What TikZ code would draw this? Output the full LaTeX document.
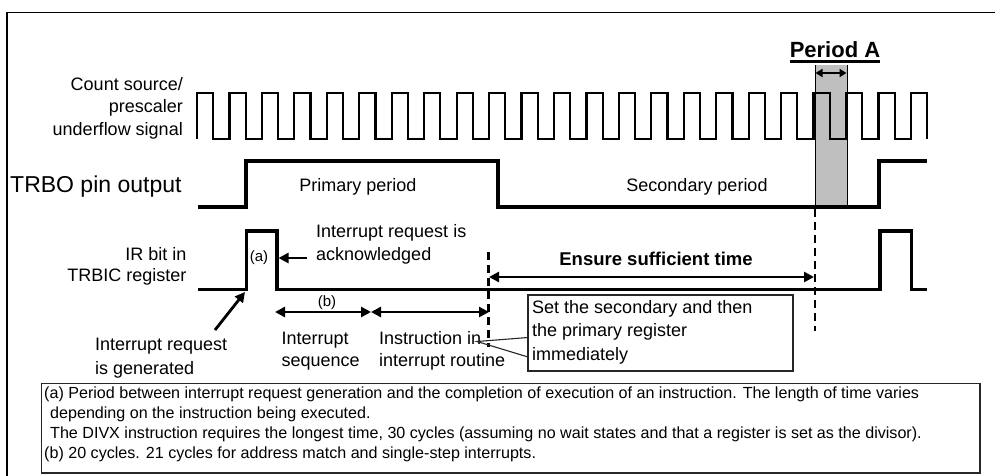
\documentclass[tikz,border=0pt]{standalone}
\usepackage{fontspec}
\setmainfont{Liberation Sans}
\usetikzlibrary{arrows.meta}
\begin{document}
\begin{tikzpicture}[x=1pt,y=-1pt,
  lbl/.style={inner sep=0pt, font=\fontsize{18}{22}\selectfont},
  biglbl/.style={inner sep=0pt, font=\fontsize{23}{27}\selectfont},
  smalllbl/.style={inner sep=0pt, font=\fontsize{15}{18}\selectfont},
  boldlbl/.style={inner sep=0pt, font=\fontsize{18.5}{22}\selectfont\bfseries},
  notelbl/.style={inner sep=0pt, anchor=base west, font=\fontsize{16.1}{18}\selectfont},
  clk/.style={line width=2.2pt, line join=miter},
  pin/.style={line width=4.5pt, line join=miter},
  irb/.style={line width=3.2pt, line join=miter},
  dashline/.style={line width=2.6pt, dash pattern=on 8pt off 5pt},
  dblarrow/.style={line width=2.6pt, {Triangle[length=10pt,width=10pt]}-{Triangle[length=10pt,width=10pt]}},
  onearrow/.style={line width=2.8pt, -{Triangle[length=10pt,width=10pt]}},
  framebox/.style={line width=1.3pt, draw=black!85}
]
\useasboundingbox (0,0) rectangle (995,476);
% outer frame
\draw[line width=1.5pt] (7,476) -- (7,12.5) -- (995,12.5);

% Period A shading
\fill[black!25] (815,65) rectangle (847,207);
\draw[line width=1pt] (815,65) -- (815,207);
\draw[line width=1pt] (847,65) -- (847,207);

% clock signal
\draw[clk] (197,139) \foreach \k in {0,...,22}{ -- ({197+\k*32.45},139) -- ({197+\k*32.45},93) -- ({213.2+\k*32.45},93) -- ({213.2+\k*32.45},139)};

% TRBO pin output
\draw[pin] (198,207) -- (246,207) -- (246,161) -- (498,161) -- (498,207) -- (879,207) -- (879,161) -- (927,161);

% IR bit
\draw[irb] (198,289.5) -- (246.5,289.5) -- (246.5,231) -- (277,231) -- (277,289.5) -- (880,289.5) -- (880,231) -- (911.5,231) -- (911.5,289.5) -- (927,289.5);

% labels
\node[lbl, anchor=base east] (cs1) at (183,90.7) {Count source/};
\node[lbl, anchor=base east] (cs2) at (183,113) {prescaler};
\node[lbl, anchor=base east] (cs3) at (183,135.5) {underflow signal};
\node[biglbl, anchor=base west] (trbo) at (10,192.5) {TRBO pin output};
\node[lbl, anchor=base] (prim) at (358,191.5) {Primary period};
\node[lbl, anchor=base] (sec) at (697,191) {Secondary period};
\node[lbl, anchor=base east] (ir1) at (186.5,260) {IR bit in};
\node[lbl, anchor=base east] (ir2) at (186.5,281) {TRBIC register};
\node[smalllbl] (alab) at (259,258) {(a)};
\node[lbl, anchor=base west] (ack1) at (316,237) {Interrupt request is};
\node[lbl, anchor=base west] (ack2) at (316,260) {acknowledged};
\node[lbl, anchor=base west] (gen1) at (95,350) {Interrupt request};
\node[lbl, anchor=base west] (gen2) at (95,374) {is generated};
\node[smalllbl, anchor=base] (blab) at (327,306) {(b)};
\node[lbl, anchor=base west] (seq1) at (281.5,344) {Interrupt};
\node[lbl, anchor=base west] (seq2) at (281.5,366) {sequence};
\node[lbl, anchor=base west] (ins1) at (379,344) {Instruction in};
\node[lbl, anchor=base west] (ins2) at (379,366) {interrupt routine};
\node[boldlbl, anchor=base] (ens) at (656,265) {Ensure sufficient time};
\node[inner sep=0pt, anchor=base, font=\fontsize{22}{26}\selectfont\bfseries] (pa) at (835,58) {Period A};
\draw[line width=2.2pt] (pa.base west) ++(0,3.5) -- ([yshift=-3.5pt]pa.base east);

% Period A arrow
\coordinate (pal) at (815.5,73);
\coordinate (par) at (846.5,73);
\draw[line width=2.2pt, {Triangle[length=7pt,width=8pt]}-{Triangle[length=7pt,width=8pt]}] (pal) -- (par);

% dashed lines
\coordinate (d1t) at (488.5,252);
\coordinate (d1b) at (488.5,347);
\coordinate (d2t) at (815,209);
\coordinate (d2b) at (815,331);
\draw[dashline] (d1t) -- (d1b);
\draw[dashline] (d2t) -- (d2b);

% arrows
\coordinate (bl) at (275,312);
\coordinate (bm) at (371,312);
\coordinate (br) at (489,312);
\draw[dblarrow] (bl) -- (bm);
\draw[dblarrow] (bm) -- (br);
\coordinate (el) at (489,277);
\coordinate (er) at (814,277);
\draw[dblarrow] (el) -- (er);
\coordinate (acks) at (307,258);
\coordinate (acke) at (278.5,258);
\draw[onearrow] (acks) -- (acke);
\coordinate (gens) at (215,330);
\coordinate (gene) at (245,292);
\draw[onearrow] (gens) -- (gene);

% callout
\draw[framebox, fill=white] (528,295) rectangle (793,371);
\draw[line width=1.1pt, draw=black!85] (528,337.5) -- (477,341.5) -- (528,357);
\node[lbl, anchor=base west] (c1) at (532,313) {Set the secondary and then};
\node[lbl, anchor=base west] (c2) at (532,336.7) {the primary register};
\node[lbl, anchor=base west] (c3) at (532,360) {immediately};

% footnote box
\draw[framebox] (41.5,383.5) rectangle (980,473);
\node[notelbl] (n1) at (44,398) {(a) Period between interrupt request generation and the completion of execution of an instruction. The length of time varies};
\node[notelbl] (n2) at (50,418) {depending on the instruction being executed.};
\node[notelbl] (n3) at (50,438) {The DIVX instruction requires the longest time, 30 cycles (assuming no wait states and that a register is set as the divisor).};
\node[notelbl] (n4) at (44,458) {(b) 20 cycles. 21 cycles for address match and single-step interrupts.};
\end{tikzpicture}
\end{document}
